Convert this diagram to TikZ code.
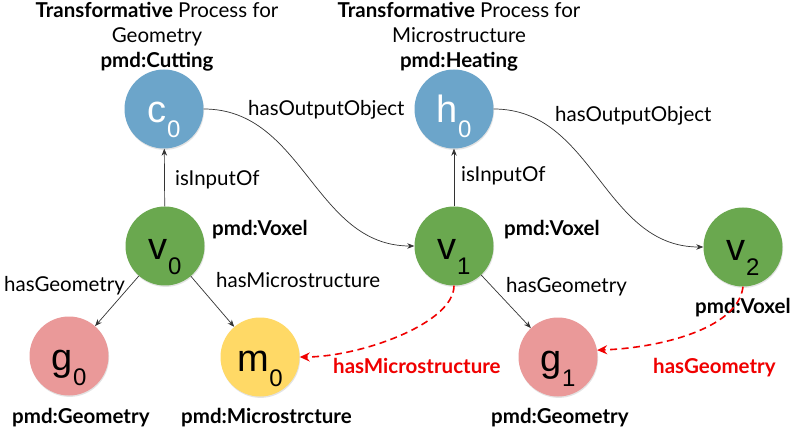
\documentclass[tikz,border=0pt]{standalone}
\usepackage{fontspec}
\setmainfont{Lato}
\newfontfamily\arialf{Liberation Sans}
\usetikzlibrary{arrows.meta,shadows}
\definecolor{cblue}{RGB}{108,165,202}
\definecolor{cgreen}{RGB}{106,168,79}
\definecolor{cpink}{RGB}{234,153,153}
\definecolor{cyellow}{RGB}{255,217,102}
\definecolor{cred}{RGB}{240,0,0}
\tikzset{
  ent/.style={circle, minimum size=79pt, inner sep=0pt, draw=none,
    text height=0pt, text depth=0pt,
    drop shadow={shadow xshift=0.6pt, shadow yshift=-1.4pt, opacity=0.22}},
  lbl/.style={font=\fontsize{20.5}{24}\selectfont, inner sep=0pt, anchor=base west},
  blbl/.style={lbl, font=\fontsize{20.5}{24}\selectfont\bfseries},
  rlbl/.style={blbl, text=cred},
  hdr/.style={font=\fontsize{20.5}{24}\selectfont, inner sep=0pt, anchor=base},
  edge/.style={draw=black!80, line width=0.7pt, -{Stealth[length=7pt,width=5.5pt]}},
  redge/.style={draw=cred, line width=1.6pt, dash pattern=on 7pt off 4.5pt,
    -{Stealth[length=10pt,width=9pt]}},
}
\newcommand{\entlabel}[2]{\raisebox{-14pt}{\arialf\fontsize{38}{38}\selectfont #1\kern0.5pt\raisebox{-15pt}{\fontsize{24}{24}\selectfont #2}}}
\begin{document}
\begin{tikzpicture}[x=1pt,y=-1pt]
\useasboundingbox[fill=white] (0,0) rectangle (803,430);
% headers
\node[hdr] (hc1) at (157,18) {\textbf{Transformative} Process for};
\node[hdr] (hc2) at (157,43) {Geometry};
\node[hdr] (hc3) at (157,68) {\textbf{pmd:Cutting}};
\node[hdr] (hh1) at (459,18) {\textbf{Transformative} Process for};
\node[hdr] (hh2) at (459,43) {Microstructure};
\node[hdr] (hh3) at (459,68) {\textbf{pmd:Heating}};
% entities
\node[ent, fill=cblue, text=white] (c0) at (164,109) {\entlabel{c}{0}};
\node[ent, fill=cblue, text=white] (h0) at (454,109) {\entlabel{h}{0}};
\node[ent, fill=cgreen] (v0) at (165,246) {\entlabel{v}{0}};
\node[ent, fill=cgreen] (v1) at (454,246) {\entlabel{v}{1}};
\node[ent, fill=cgreen] (v2) at (743,247) {\entlabel{v}{2}};
\node[ent, fill=cpink] (g0) at (69,356) {\entlabel{g}{0}};
\node[ent, fill=cyellow] (m0) at (260,357) {\entlabel{m}{0}};
\node[ent, fill=cpink] (g1) at (558,357) {\entlabel{g}{1}};
% labels
\node[lbl] (lo1) at (248,116) {hasOutputObject};
\node[lbl] (lo2) at (555,122) {hasOutputObject};
\node[lbl] (li1) at (175,186) {isInputOf};
\node[lbl] (li2) at (461,182) {isInputOf};
\node[blbl] (pv0) at (212,236) {pmd:Voxel};
\node[blbl] (pv1) at (504,236) {pmd:Voxel};
\node[blbl] (pv2) at (695,313) {pmd:Voxel};
\node[lbl] (lg0) at (4,291) {hasGeometry};
\node[lbl] (lm0) at (216,288) {hasMicrostructure};
\node[lbl] (lg1) at (506,293) {hasGeometry};
\node[blbl] (pg0) at (12,423) {pmd:Geometry};
\node[blbl] (pm0) at (181,423) {pmd:Microstrcture};
\node[blbl] (pg1) at (491,423) {pmd:Geometry};
\node[rlbl] (rm) at (333,373) {hasMicrostructure};
\node[rlbl] (rg) at (653,373) {hasGeometry};
% edges
\draw[edge] (v0) -- (c0);
\draw[edge] (v1) -- (h0);
\draw[edge] (c0.east) .. controls +(100,0) and +(-100,0) .. (v1.west);
\draw[edge] (h0.east) .. controls +(100,0) and +(-100,0) .. (v2.west);
\draw[edge] (v0) -- (g0);
\draw[edge] (v0) -- (m0);
\draw[edge] (v1) -- (g1);
\draw[redge] (v1.south) .. controls +(0,38) and +(60,0) .. (m0.east);
\draw[redge] (v2.south) .. controls +(-5,43) and +(60,-2) .. (g1.10);
\end{tikzpicture}
\end{document}
